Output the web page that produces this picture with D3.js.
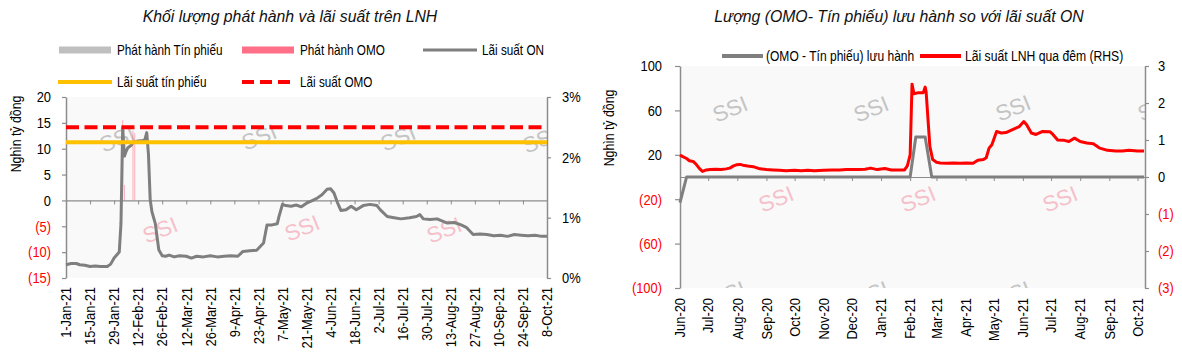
<!DOCTYPE html>
<html><head><meta charset="utf-8">
<script src="https://cdn.jsdelivr.net/npm/d3@7"></script>
<style>
body{margin:0;background:#fff;}
svg text{font-family:"Liberation Sans Narrow","Arial Narrow","Liberation Sans",Arial,sans-serif;}
</style></head><body>
<svg id="c" width="1182" height="357"></svg>
<script>
// ---------- LEFT CHART DATA ----------
const leftOnDates = ["2021-01-01","2021-01-04","2021-01-07","2021-01-09","2021-01-12","2021-01-15","2021-01-18","2021-01-21","2021-01-25","2021-01-27","2021-01-29","2021-02-01","2021-02-02","2021-02-03","2021-02-04","2021-02-05","2021-02-06","2021-02-08","2021-02-09","2021-02-12","2021-02-15","2021-02-16","2021-02-17","2021-02-18","2021-02-19","2021-02-20","2021-02-22","2021-02-24","2021-02-26","2021-02-28","2021-03-02","2021-03-05","2021-03-08","2021-03-12","2021-03-15","2021-03-18","2021-03-22","2021-03-26","2021-03-30","2021-04-03","2021-04-07","2021-04-11","2021-04-14","2021-04-18","2021-04-22","2021-04-26","2021-04-28","2021-05-01","2021-05-04","2021-05-05","2021-05-07","2021-05-09","2021-05-12","2021-05-15","2021-05-18","2021-05-21","2021-05-24","2021-05-27","2021-05-30","2021-06-02","2021-06-04","2021-06-06","2021-06-08","2021-06-10","2021-06-13","2021-06-16","2021-06-19","2021-06-23","2021-06-27","2021-07-01","2021-07-03","2021-07-07","2021-07-11","2021-07-15","2021-07-20","2021-07-24","2021-07-26","2021-07-28","2021-08-01","2021-08-05","2021-08-11","2021-08-15","2021-08-19","2021-08-22","2021-08-26","2021-08-30","2021-09-03","2021-09-07","2021-09-11","2021-09-15","2021-09-19","2021-09-23","2021-09-27","2021-10-01","2021-10-05","2021-10-08"];
const leftOnRate = [0.22,0.24,0.24,0.22,0.21,0.19,0.20,0.19,0.19,0.23,0.33,0.43,0.90,2.49,2.02,2.10,2.16,2.20,2.25,2.27,2.28,2.30,2.41,2.05,1.30,1.10,0.90,0.47,0.37,0.36,0.38,0.35,0.37,0.36,0.33,0.36,0.35,0.37,0.35,0.36,0.37,0.36,0.44,0.45,0.46,0.58,0.88,0.88,0.90,1.02,1.22,1.20,1.19,1.21,1.18,1.24,1.28,1.32,1.38,1.47,1.48,1.41,1.25,1.12,1.13,1.19,1.13,1.20,1.22,1.20,1.13,1.02,1.00,0.98,1.00,1.02,1.05,0.98,0.97,0.98,0.91,0.92,0.88,0.84,0.72,0.73,0.72,0.70,0.71,0.69,0.72,0.71,0.70,0.71,0.69,0.69];
const omoIssueDates = ["2021-02-03","2021-02-04","2021-02-09","2021-02-10"];
const omoIssue = [15.5, 3.0, 13.5, 13.0];
const tinPhieuIssueDates = [];
const tinPhieuIssue = [];
const tinPhieuRate = 2.25;
const omoRate = 2.5;
const leftXTicks = ["2021-01-01","2021-01-15","2021-01-29","2021-02-12","2021-02-26","2021-03-12","2021-03-26","2021-04-09","2021-04-23","2021-05-07","2021-05-21","2021-06-04","2021-06-18","2021-07-02","2021-07-16","2021-07-30","2021-08-13","2021-08-27","2021-09-10","2021-09-24","2021-10-08"];
const leftYTicks = [-15,-10,-5,0,5,10,15,20];
const leftRTicks = [0,1,2,3];

// ---------- RIGHT CHART DATA ----------
const rightOnDates = ["2020-06-01","2020-06-04","2020-06-08","2020-06-11","2020-06-15","2020-06-18","2020-06-22","2020-06-25","2020-06-29","2020-07-03","2020-07-09","2020-07-15","2020-07-20","2020-07-24","2020-07-28","2020-07-31","2020-08-04","2020-08-07","2020-08-12","2020-08-18","2020-08-25","2020-09-01","2020-09-08","2020-09-15","2020-09-22","2020-10-01","2020-10-08","2020-10-15","2020-10-22","2020-11-01","2020-11-10","2020-11-18","2020-11-25","2020-12-01","2020-12-08","2020-12-15","2020-12-21","2020-12-28","2021-01-05","2021-01-12","2021-01-19","2021-01-26","2021-01-29","2021-02-01","2021-02-03","2021-02-05","2021-02-10","2021-02-15","2021-02-17","2021-02-18","2021-02-22","2021-02-25","2021-03-01","2021-03-05","2021-03-12","2021-03-19","2021-03-26","2021-04-02","2021-04-09","2021-04-14","2021-04-20","2021-04-23","2021-04-26","2021-04-29","2021-05-04","2021-05-09","2021-05-14","2021-05-21","2021-05-28","2021-06-02","2021-06-05","2021-06-10","2021-06-15","2021-06-22","2021-06-30","2021-07-03","2021-07-08","2021-07-15","2021-07-20","2021-07-26","2021-08-01","2021-08-08","2021-08-15","2021-08-22","2021-08-30","2021-09-08","2021-09-15","2021-09-22","2021-10-01","2021-10-08"];
const rightOnRate = [0.59,0.55,0.50,0.44,0.42,0.35,0.22,0.15,0.19,0.20,0.21,0.20,0.22,0.24,0.30,0.33,0.34,0.32,0.30,0.28,0.22,0.20,0.19,0.18,0.17,0.18,0.17,0.18,0.17,0.18,0.19,0.19,0.20,0.20,0.20,0.21,0.24,0.20,0.23,0.19,0.19,0.19,0.30,0.60,2.51,2.25,2.28,2.28,2.43,2.30,0.82,0.47,0.40,0.38,0.37,0.38,0.37,0.38,0.37,0.45,0.47,0.52,0.78,0.87,1.23,1.19,1.20,1.28,1.36,1.50,1.41,1.19,1.15,1.23,1.22,1.15,1.00,0.99,0.96,1.05,0.96,0.92,0.90,0.78,0.72,0.70,0.70,0.72,0.70,0.70];
const netDates = ["2020-06-01","2020-06-08","2021-02-01","2021-02-07","2021-02-17","2021-02-24","2021-10-08"];
const netOutstanding = [-23, 0, 0, 36, 36, 0, 0];
const rightXTicks = ["2020-06-01","2020-07-01","2020-08-01","2020-09-01","2020-10-01","2020-11-01","2020-12-01","2021-01-01","2021-02-01","2021-03-01","2021-04-01","2021-05-01","2021-06-01","2021-07-01","2021-08-01","2021-09-01","2021-10-01"];
const rightYTicks = [-100,-60,-20,20,60,100];
const rightRTicks = [-3,-2,-1,0,1,2,3];

// ---------- HELPERS ----------
const parse = d3.timeParse("%Y-%m-%d");
const svg = d3.select("#c");
const negFmt = d => d < 0 ? "(" + Math.abs(d) + ")" : String(d);
const AX = "#8c8c8c", RED = "#ff0000", GRAY = "#7f7f7f", YEL = "#ffc000", PINK = "#ff6f87";
const FS = 15, TK = 0.86, LK = 0.84, TITK = 0.93;

function styleAxis(g, colorFn){
  g.select(".domain").attr("stroke", AX).attr("stroke-width", 1.5);
  g.selectAll(".tick line").attr("stroke", AX).attr("stroke-width", 1.2);
  g.selectAll(".tick text").attr("font-size", FS).attr("fill", colorFn || "#000")
    .each(function(){ const t = d3.select(this); const x = +t.attr("x");
      t.attr("x", x / TK).attr("transform", `scale(${TK},1)`); });
}
// squeezed text at a position
function sText(g, x, y, str, k, size, anchor){
  return g.append("text").attr("transform", `translate(${x},${y}) scale(${k},1)`)
    .attr("dy","0.35em").attr("font-size", size).attr("text-anchor", anchor || "start").text(str);
}
function watermarks(g, pts, color){
  pts.forEach(p => g.append("text").attr("transform", `translate(${p[0]},${p[1]}) rotate(-22)`)
    .attr("text-anchor","middle").attr("dy","0.35em").attr("font-size",22)
    .style("font-family","Liberation Sans, Arial, sans-serif")
    .attr("fill", color).text("SSI"));
}

// ================= LEFT CHART =================
const L = {x0:66, x1:547, y0:97, y1:278};
const xL = d3.scaleTime().domain([parse("2021-01-01"), parse("2021-10-08")]).range([L.x0, L.x1]);
const yL = d3.scaleLinear().domain([-15, 20]).range([L.y1, L.y0]);
const yLR = d3.scaleLinear().domain([0, 3]).range([L.y1, L.y0]);

sText(svg, 290, 16, "Khối lượng phát hành và lãi suất trên LNH", TITK, 17, "middle")
  .attr("font-style","italic").attr("fill","#111");

svg.append("rect").attr("x", L.x0).attr("y", L.y0).attr("width", L.x1-L.x0).attr("height", L.y1-L.y0).attr("fill","#f9f9f9");
svg.append("clipPath").attr("id","clipL").append("rect").attr("x", L.x0).attr("y", L.y0).attr("width", L.x1-L.x0).attr("height", L.y1-L.y0);
const wL = svg.append("g").attr("clip-path","url(#clipL)");
watermarks(wL, [[117,139],[259,137],[398,138],[540,140]], "#c4c4c4");
watermarks(wL, [[160,230],[302,228],[444,230]], "#f6c0cb");

// legend
const lg = svg.append("g");
lg.append("rect").attr("x",59).attr("y",46.5).attr("width",52).attr("height",7).attr("fill","#bfbfbf");
sText(lg, 117, 50, "Phát hành Tín phiếu", LK, 14);
lg.append("rect").attr("x",242).attr("y",46.5).attr("width",52).attr("height",7).attr("fill",PINK);
sText(lg, 300, 50, "Phát hành OMO", LK, 14);
lg.append("line").attr("x1",423).attr("x2",477).attr("y1",50).attr("y2",50).attr("stroke",GRAY).attr("stroke-width",3);
sText(lg, 482, 50, "Lãi suất ON", LK, 14);
lg.append("line").attr("x1",58).attr("x2",112).attr("y1",82).attr("y2",82).attr("stroke",YEL).attr("stroke-width",4);
sText(lg, 117, 82, "Lãi suất tín phiếu", LK, 14);
lg.append("line").attr("x1",242).attr("x2",292).attr("y1",82).attr("y2",82).attr("stroke",RED).attr("stroke-width",4).attr("stroke-dasharray","12,6");
sText(lg, 300, 82, "Lãi suất OMO", LK, 14);

// bars
svg.append("g").selectAll("rect").data(tinPhieuIssue.map((v,i)=>({d:parse(tinPhieuIssueDates[i]),v})))
  .join("rect").attr("x", d=>xL(d.d)-0.6).attr("width",1.2)
  .attr("y", d=>Math.min(yL(0),yL(d.v))).attr("height", d=>Math.abs(yL(d.v)-yL(0))).attr("fill","#bfbfbf");
svg.append("g").selectAll("rect").data(omoIssue.map((v,i)=>({d:parse(omoIssueDates[i]),v})))
  .join("rect").attr("x", d=>xL(d.d)-0.5).attr("width",1)
  .attr("y", d=>Math.min(yL(0),yL(d.v))).attr("height", d=>Math.abs(yL(d.v)-yL(0))).attr("fill",PINK).attr("opacity",0.55);

// axes
const gyl = svg.append("g").attr("transform",`translate(${L.x0},0)`)
  .call(d3.axisLeft(yL).tickValues(leftYTicks).tickSize(4).tickSizeOuter(0).tickPadding(11).tickFormat(negFmt));
styleAxis(gyl, d => d < 0 ? RED : "#000");
const gyr = svg.append("g").attr("transform",`translate(${L.x1},0)`)
  .call(d3.axisRight(yLR).tickValues(leftRTicks).tickSize(4).tickSizeOuter(0).tickPadding(11).tickFormat(d=>d+"%"));
styleAxis(gyr);
const gxl = svg.append("g").attr("transform",`translate(0,${yL(0)})`)
  .call(d3.axisBottom(xL).tickValues(leftXTicks.map(parse)).tickSize(4).tickSizeOuter(0).tickFormat(""));
gxl.select(".domain").attr("stroke", AX).attr("stroke-width",1.2);
gxl.selectAll(".tick line").attr("stroke", AX);
const fmtL = d3.timeFormat("%-d-%b-%y");
svg.append("g").selectAll("text").data(leftXTicks.map(parse)).join("text")
  .attr("transform", d=>`translate(${xL(d)},287) rotate(-90) scale(${TK},1)`)
  .attr("text-anchor","end").attr("dy","0.35em").attr("font-size",FS).text(fmtL);

// ON line
const lineL = d3.line().x(d=>xL(d.d)).y(d=>yLR(d.v));
svg.append("path").datum(leftOnRate.map((v,i)=>({d:parse(leftOnDates[i]),v})))
  .attr("d", lineL).attr("fill","none").attr("stroke",GRAY).attr("stroke-width",3).attr("stroke-linejoin","round");
// rate lines
svg.append("line").attr("x1",L.x0).attr("x2",L.x1).attr("y1",yLR(tinPhieuRate)).attr("y2",yLR(tinPhieuRate))
  .attr("stroke",YEL).attr("stroke-width",4);
svg.append("line").attr("x1",L.x0).attr("x2",L.x1).attr("y1",yLR(omoRate)).attr("y2",yLR(omoRate))
  .attr("stroke",RED).attr("stroke-width",4).attr("stroke-dasharray","13,5.5");

svg.append("text").attr("transform",`translate(16,134) rotate(-90) scale(0.88,1)`).attr("text-anchor","middle")
  .attr("dy","0.35em").attr("font-size",14).text("Nghìn tỷ đồng");

// ================= RIGHT CHART =================
const R = {x0:680, x1:1145, y0:66, y1:288};
const xR = d3.scaleTime().domain([parse("2020-06-01"), parse("2021-10-09")]).range([R.x0, R.x1]);
const yR = d3.scaleLinear().domain([-100, 100]).range([R.y1, R.y0]);
const yRR = d3.scaleLinear().domain([-3, 3]).range([R.y1, R.y0]);

sText(svg, 899, 16, "Lượng (OMO- Tín phiếu) lưu hành so với lãi suất ON", TITK, 17, "middle")
  .attr("font-style","italic").attr("fill","#111");

svg.append("rect").attr("x", R.x0).attr("y", R.y0).attr("width", R.x1-R.x0).attr("height", R.y1-R.y0).attr("fill","#f9f9f9");
svg.append("clipPath").attr("id","clipR").append("rect").attr("x", R.x0).attr("y", R.y0).attr("width", R.x1-R.x0).attr("height", R.y1-R.y0);
const wR = svg.append("g").attr("clip-path","url(#clipR)");
watermarks(wR, [[730,109],[871,109],[1013,108],[1155,108],[728,294],[871,294],[1013,294]], "#c4c4c4");
watermarks(wR, [[776,199],[918,199],[1060,199]], "#f6c0cb");

// legend
const rg = svg.append("g");
rg.append("line").attr("x1",722).attr("x2",763).attr("y1",56).attr("y2",56).attr("stroke",GRAY).attr("stroke-width",4);
sText(rg, 766, 56, "(OMO - Tín phiếu) lưu hành", 0.86, 14);
rg.append("line").attr("x1",920).attr("x2",961).attr("y1",56).attr("y2",56).attr("stroke",RED).attr("stroke-width",4);
sText(rg, 965, 56, "Lãi suất LNH qua đêm (RHS)", 0.87, 14);

const gyl2 = svg.append("g").attr("transform",`translate(${R.x0},0)`)
  .call(d3.axisLeft(yR).tickValues(rightYTicks).tickSize(5).tickSizeOuter(0).tickPadding(13).tickFormat(negFmt));
styleAxis(gyl2, d => d < 0 ? RED : "#000");
const gyr2 = svg.append("g").attr("transform",`translate(${R.x1},0)`)
  .call(d3.axisRight(yRR).tickValues(rightRTicks).tickSize(4).tickSizeOuter(0).tickPadding(9).tickFormat(negFmt));
styleAxis(gyr2, d => d < 0 ? RED : "#000");
const gxr = svg.append("g").attr("transform",`translate(0,${yR(0)})`)
  .call(d3.axisBottom(xR).tickValues(rightXTicks.map(parse)).tickSize(4).tickSizeOuter(0).tickFormat(""));
gxr.select(".domain").attr("stroke", AX).attr("stroke-width",1.2);
gxr.selectAll(".tick line").attr("stroke", AX);
const fmtR = d3.timeFormat("%b-%y");
svg.append("g").selectAll("text").data(rightXTicks.map(parse)).join("text")
  .attr("transform", d=>`translate(${xR(d)},298) rotate(-90) scale(${TK},1)`)
  .attr("text-anchor","end").attr("dy","0.35em").attr("font-size",FS).text(fmtR);

svg.append("path").datum(rightOnRate.map((v,i)=>({d:parse(rightOnDates[i]),v})))
  .attr("d", d3.line().x(d=>xR(d.d)).y(d=>yRR(d.v))).attr("fill","none").attr("stroke",RED).attr("stroke-width",3).attr("stroke-linejoin","round");
svg.append("path").datum(netOutstanding.map((v,i)=>({d:parse(netDates[i]),v})))
  .attr("d", d3.line().x(d=>xR(d.d)).y(d=>yR(d.v))).attr("fill","none").attr("stroke",GRAY).attr("stroke-width",3).attr("stroke-linejoin","round");

svg.append("text").attr("transform",`translate(609,128) rotate(-90) scale(0.88,1)`).attr("text-anchor","middle")
  .attr("dy","0.35em").attr("font-size",14).text("Nghìn tỷ đồng");
</script>
</body></html>
